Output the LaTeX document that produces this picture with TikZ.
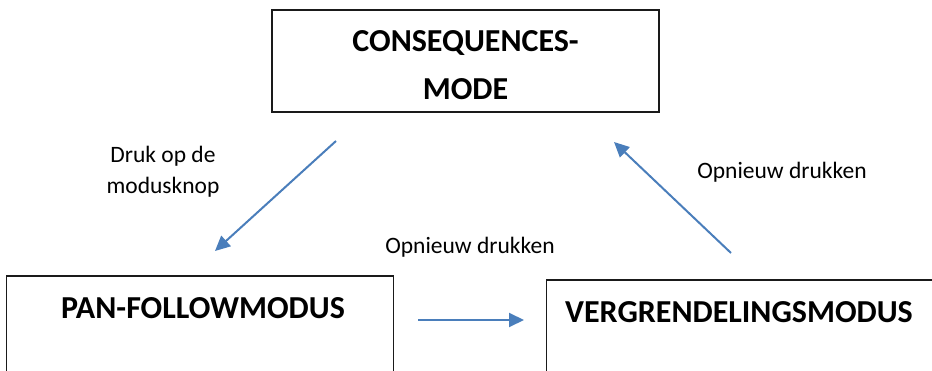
\documentclass[tikz,border=0pt]{standalone}
\usepackage{fontspec}
\setmainfont{Carlito}
\usepackage{tikz}
\usetikzlibrary{arrows.meta, positioning, calc}
\definecolor{arrowblue}{HTML}{4A7EBB}
\definecolor{boxgray}{HTML}{1A1A1A}

\tikzset{
  modebox/.style={draw=boxgray, line width=1.5pt, minimum width=387pt, minimum height=102pt, inner sep=0pt},
  modetitle/.style={font=\fontsize{32}{32}\selectfont\bfseries, anchor=base, inner sep=0pt},
  steplabel/.style={font=\fontsize{23.5}{23.5}\selectfont, anchor=base, inner sep=0pt},
  modearrow/.style={arrowblue, line width=2pt, -{Triangle[length=15pt, width=14pt]}}
}

\begin{document}
\begin{tikzpicture}[x=1pt, y=-1pt]
  \useasboundingbox (0,0) rectangle (932,371);

  % Mode boxes - the two lower ones run off the page edge
  \node[modebox] (consequences) at (465.5,61) {};
  \node[modebox] (panfollow) at (200,327) {};
  \node[modebox] (lock) at (740,331) {};

  % Box titles
  \node[modetitle] (constitle) at (465.5,52) {CONSEQUENCES-};
  \node[modetitle] (constitlemode) at (465.5,100) {MODE};
  \node[modetitle] (pantitle) at (203,319) {PAN-FOLLOWMODUS};
  \node[modetitle] (locktitle) at (739,323) {VERGRENDELINGSMODUS};

  % Arrow end points
  \coordinate (downstart) at (336,141);
  \coordinate (downend) at (215,251);
  \coordinate (acrossstart) at (418,320);
  \coordinate (acrossend) at (524,320);
  \coordinate (upstart) at (731,253);
  \coordinate (upend) at (614,142);

  \draw[modearrow] (downstart) -- (downend);
  \draw[modearrow] (acrossstart) -- (acrossend);
  \draw[modearrow] (upstart) -- (upend);

  % Arrow labels
  \node[steplabel] (druklabel) at (163,163) {Druk op de};
  \node[steplabel] (druklabelknop) at (163,194) {modusknop};
  \node[steplabel] (againlabel) at (470,254) {Opnieuw drukken};
  \node[steplabel] (againlabelup) at (782,179) {Opnieuw drukken};
\end{tikzpicture}
\end{document}
